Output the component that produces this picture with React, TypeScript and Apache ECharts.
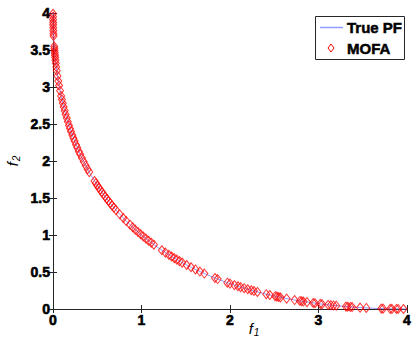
import React, { useEffect, useRef } from "react";
import * as echarts from "echarts";

// True Pareto front (f1, f2)
const pfF1 = [0, 0.0025, 0.01, 0.0225, 0.04, 0.0625, 0.09, 0.1225, 0.16, 0.2025, 0.25, 0.3025, 0.36, 0.4225, 0.49, 0.5625, 0.64, 0.7225, 0.81, 0.9025, 1, 1.1025, 1.21, 1.3225, 1.44, 1.5625, 1.69, 1.8225, 1.96, 2.1025, 2.25, 2.4025, 2.56, 2.7225, 2.89, 3.0625, 3.24, 3.4225, 3.61, 3.8025, 4];
const pfF2 = [4, 3.8025, 3.61, 3.4225, 3.24, 3.0625, 2.89, 2.7225, 2.56, 2.4025, 2.25, 2.1025, 1.96, 1.8225, 1.69, 1.5625, 1.44, 1.3225, 1.21, 1.1025, 1, 0.9025, 0.81, 0.7225, 0.64, 0.5625, 0.49, 0.4225, 0.36, 0.3025, 0.25, 0.2025, 0.16, 0.1225, 0.09, 0.0625, 0.04, 0.0225, 0.01, 0.0025, 0];

// MOFA solutions (red diamonds)
const mofaF1 = [
  0, 0.0002, 0.0005, 0.0011, 0.0016, 0.0026, 0.0037, 0.0051, 0.0063,
  0.0134, 0.0153, 0.0174, 0.0196, 0.0219, 0.0244, 0.0279, 0.0317,
  0.0368, 0.0423, 0.0507, 0.06, 0.0687, 0.0798, 0.0918, 0.101, 0.1107, 0.1209, 0.1317, 0.1431,
  0.1551, 0.1676, 0.1808, 0.1918, 0.2032, 0.2181, 0.2305, 0.2433, 0.2601, 0.2741, 0.2922, 0.3073, 0.3269, 0.3473, 0.3687, 0.3909, 0.4095,
  0.4688, 0.4847, 0.5008, 0.5175, 0.5345, 0.552, 0.57, 0.5884, 0.6073, 0.6268, 0.6467, 0.6671, 0.6881, 0.7097,
  0.7545, 0.7937, 0.8265,
  0.87, 0.9, 0.93, 0.96, 0.99, 1.02, 1.05, 1.08, 1.11, 1.14,
  1.23, 1.27, 1.31, 1.34, 1.37, 1.4, 1.43, 1.46,
  1.51, 1.56, 1.61, 1.66, 1.71,
  1.83, 1.86, 1.97, 2.0,
  2.05, 2.09, 2.12, 2.16, 2.2, 2.24, 2.27, 2.31,
  2.41, 2.45, 2.51, 2.53, 2.55, 2.57, 2.64, 2.73, 2.79, 2.81, 2.83, 2.87, 2.94, 2.96, 3.02, 3.04,
  3.11, 3.14, 3.17, 3.2, 3.31, 3.33, 3.36, 3.38, 3.47, 3.54, 3.71, 3.73, 3.81, 3.83, 3.88, 3.9, 3.96,
];
const mofaF2 = [
  3.99, 3.95, 3.91, 3.87, 3.84, 3.8, 3.76, 3.72, 3.69,
  3.55, 3.52, 3.49, 3.46, 3.43, 3.4, 3.36, 3.32,
  3.27, 3.22, 3.15, 3.08, 3.02, 2.95, 2.88, 2.83, 2.78, 2.73, 2.68, 2.63,
  2.58, 2.53, 2.48, 2.44, 2.4, 2.35, 2.31, 2.27, 2.22, 2.18, 2.13, 2.09, 2.04, 1.99, 1.94, 1.89, 1.85,
  1.73, 1.7, 1.67, 1.64, 1.61, 1.58, 1.55, 1.52, 1.49, 1.46, 1.43, 1.4, 1.37, 1.34,
  1.28, 1.23, 1.19,
  1.1391, 1.1052, 1.0725, 1.0409, 1.01, 0.9801, 0.9513, 0.9231, 0.8957, 0.8691,
  0.7937, 0.7623, 0.7318, 0.7097, 0.6881, 0.6671, 0.6467, 0.6268,
  0.5947, 0.564, 0.5345, 0.5064, 0.4793,
  0.4189, 0.4048, 0.3557, 0.3431,
  0.3229, 0.3073, 0.2961, 0.2812, 0.267, 0.2533, 0.2433, 0.2305,
  0.2003, 0.189, 0.1728, 0.1676, 0.1625, 0.1575, 0.1408, 0.1209, 0.1087, 0.1048, 0.1009, 0.0935, 0.0814, 0.0781, 0.0687, 0.0657,
  0.0559, 0.052, 0.0482, 0.0446, 0.0326, 0.0307, 0.0279, 0.0261, 0.0188, 0.014, 0.0054, 0.0047, 0.0023, 0.0018, 0.0009, 0.0006, 0.0001,
];

const legendNames = ["True PF", "MOFA"];
const xTickInterval = 1;
const yTickInterval = 0.5;

const FONT = "'Liberation Sans', Arial, Helvetica, sans-serif";
const AXIS = "#262626";
const PF_COLOR = "#8f9bff";
const MOFA_COLOR = "#ff0000";

export default function App() {
  const ref = useRef<HTMLDivElement>(null);

  useEffect(() => {
    if (!ref.current) return;
    const chart = echarts.init(ref.current, null, { renderer: "svg" });

    const axisCommon = {
      type: "value" as const,
      min: 0,
      max: 4,
      axisLine: { show: true, lineStyle: { color: AXIS, width: 1 } },
      axisTick: { show: true, inside: true, length: 4, lineStyle: { color: AXIS } },
      splitLine: { show: false },
    };

    const labelStyle = {
      show: true,
      color: "#000000",
      fontFamily: FONT,
      fontWeight: 700,
      fontSize: 14,
      textBorderColor: "#000000",
      textBorderWidth: 0.6,
      hideOverlap: false,
    };

    const nameRich = {
      i: { fontFamily: FONT, fontStyle: "italic", fontWeight: "normal", fontSize: 15, color: "#000", lineHeight: 18 },
      s: { fontFamily: FONT, fontStyle: "italic", fontWeight: "normal", fontSize: 10, color: "#000", lineHeight: 18, padding: [9, 0, 0, 1] },
    };

    const legendText = {
      fontFamily: FONT,
      fontWeight: "bold",
      fontSize: 15,
      fill: "#000",
      stroke: "#000",
      lineWidth: 0.5,
      verticalAlign: "middle",
      align: "left",
    };

    const option = {
      animation: false,
      backgroundColor: "#ffffff",
      textStyle: { fontFamily: FONT, fontWeight: 700, fontSize: 14, color: "#000" },
      grid: { left: 53, right: 8, top: 13, bottom: 37, containLabel: false, outerBoundsMode: "none" },
      xAxis: [
        {
          ...axisCommon,
          position: "bottom",
          interval: xTickInterval,
          axisLabel: { ...labelStyle, margin: 4 },
          name: "{i|f}{s|1}",
          nameLocation: "middle",
          nameGap: 10,
          nameMoveOverlap: false,
          nameTextStyle: {
            padding: [0, 0, 0, 48],
            rich: nameRich,
          },
        },
        {
          ...axisCommon,
          position: "top",
          interval: xTickInterval,
          axisLabel: { show: false },
        },
      ],
      yAxis: [
        {
          ...axisCommon,
          position: "left",
          interval: yTickInterval,
          axisLabel: { ...labelStyle, margin: 3 },
          name: "{i|f}{s|2}",
          nameLocation: "middle",
          nameGap: 32,
          nameRotate: 90,
          nameMoveOverlap: false,
          nameTextStyle: {
            rich: nameRich,
          },
        },
        {
          ...axisCommon,
          position: "right",
          interval: yTickInterval,
          axisLabel: { show: false },
        },
      ],
      series: [
        {
          name: legendNames[0],
          type: "line",
          data: pfF1.map((x, i) => [x, pfF2[i]]),
          showSymbol: false,
          symbol: "none",
          smooth: false,
          lineStyle: { color: PF_COLOR, width: 1 },
          z: 2,
        },
        {
          name: legendNames[1],
          type: "scatter",
          data: mofaF1.map((x, i) => [x, mofaF2[i]]),
          symbol: "diamond",
          symbolSize: [7, 9],
          itemStyle: { color: "rgba(255,255,255,0)", borderColor: MOFA_COLOR, borderWidth: 1 },
          z: 3,
        },
      ],
      graphic: [
        {
          type: "group",
          z: 100,
          children: [
            {
              type: "rect",
              shape: { x: 315.5, y: 16.5, width: 89, height: 43 },
              style: { fill: "#ffffff", stroke: AXIS, lineWidth: 1 },
            },
            {
              type: "line",
              shape: { x1: 320, y1: 27.5, x2: 343, y2: 27.5 },
              style: { stroke: PF_COLOR, lineWidth: 1.5 },
            },
            {
              type: "polygon",
              shape: { points: [[331, 44], [334, 48], [331, 52], [328, 48]] },
              style: { fill: "none", stroke: MOFA_COLOR, lineWidth: 1 },
            },
            {
              type: "text",
              x: 347,
              y: 27.5,
              style: { ...legendText, text: legendNames[0] },
            },
            {
              type: "text",
              x: 347,
              y: 48.5,
              style: { ...legendText, text: legendNames[1] },
            },
          ],
        },
      ],
    };

    chart.setOption(option as any);
    return () => chart.dispose();
  }, []);

  return (
    <div
      ref={ref}
      style={{ position: "fixed", left: 0, top: 0, width: 415, height: 346, background: "#fff" }}
    />
  );
}
